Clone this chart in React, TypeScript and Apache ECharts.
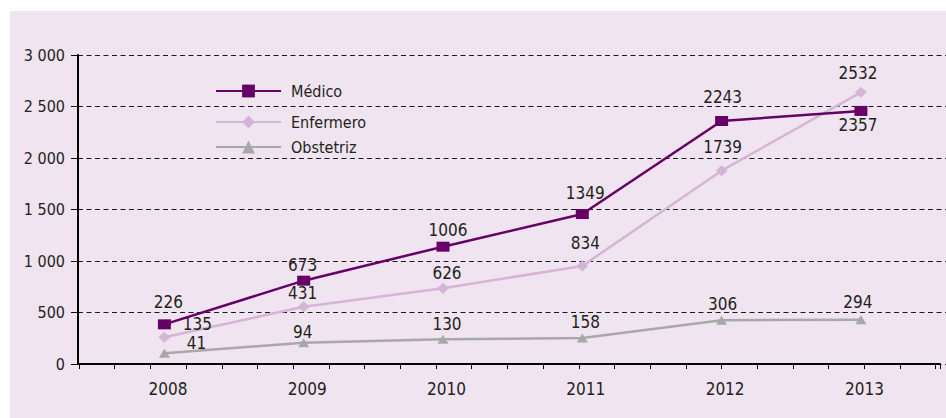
import React, { useEffect, useRef } from "react";
import * as echarts from "echarts";

const categories = ["2008", "2009", "2010", "2011", "2012", "2013"];

// values as plotted in the picture
const medicoValues = [385, 809, 1139, 1456, 2359, 2457];
const enfermeroValues = [259, 556, 735, 952, 1877, 2638];
const obstetrizValues = [105, 206, 241, 252, 425, 430];

// numbers written next to each point
const medicoLabels = [226, 673, 1006, 1349, 2243, 2357];
const enfermeroLabels = [135, 431, 626, 834, 1739, 2532];
const obstetrizLabels = [41, 94, 130, 158, 306, 294];

const yTicks = [0, 500, 1000, 1500, 2000, 2500, 3000];

const FONT = "'Liberation Sans Narrow', 'DejaVu Sans Condensed', 'Roboto Condensed', 'Liberation Sans', sans-serif";
const TEXT = "#231f20";
const BG = "#efe4ef";
const C_MED = "#660066";
const C_ENF = "#d5b5d5";
const C_OBS = "#a8a8a8";

// label placement (layout only)
const medOffsets = [[4, -22.6], [-1, -15.7], [5, -16.7], [3, -20.7], [1, -23.7], [-3, 14]];
const enfOffsets = [[33, -13.6], [-1, -13.4], [4, -15], [3, -22.7], [1, -23.4], [-3, -19]];
const obsOffsets = [[32, -10.4], [-1, -11], [4, -15], [3, -16], [1, -16.7], [-3, -18]];

const fmtThousands = (v: number) => {
  const s = String(v);
  if (s.length <= 3) return s;
  return s.slice(0, s.length - 3) + " " + s.slice(s.length - 3);
};

export default function App() {
  const ref = useRef<HTMLDivElement>(null);
  useEffect(() => {
    if (!ref.current) return;
    const chart = echarts.init(ref.current, null, { renderer: "svg" });
    const TOP = 55;
    const H = 309;

    const mkSeries = (
      name: string,
      values: number[],
      labels: number[],
      offsets: number[][],
      color: string,
      symbol: string,
      symbolSize: number | number[],
      z: number
    ) => ({
      name,
      type: "line",
      xAxisIndex: 2,
      yAxisIndex: 2,
      z,
      symbol,
      symbolSize,
      showSymbol: true,
      lineStyle: { color, width: 2.5 },
      itemStyle: { color },
      label: {
        show: true,
        position: "inside",
        fontFamily: FONT,
        fontSize: 17,
        lineHeight: 14,
        color: TEXT,
        formatter: (p: any) => String(labels[p.dataIndex]),
      },
      data: values.map((v, i) => ({ value: v, label: { offset: offsets[i] } })),
    });

    const legendBase = {
      left: 215,
      orient: "horizontal",
      padding: 0,
      itemWidth: 65,
      itemHeight: 16,
      textStyle: { fontFamily: FONT, fontSize: 16, color: TEXT, padding: [0, 0, 0, 5] },
    };

    chart.setOption({
      animation: false,
      backgroundColor: "#ffffff",
      graphic: [
        {
          type: "rect",
          shape: { x: 10, y: 11, width: 936, height: 407 },
          style: { fill: BG },
          z: -10,
          silent: true,
        },
      ],
      legend: [
        { ...legendBase, top: 83, data: ["Médico"] },
        { ...legendBase, top: 114, data: ["Enfermero"] },
        { ...legendBase, top: 139, data: ["Obstetriz"] },
      ],
      grid: [
        { left: 78, right: 0, top: TOP, height: H },
        { left: 79, width: 861, top: TOP, height: H },
        { left: 94.75, width: 835.8, top: TOP, height: H },
      ],
      xAxis: [
        { gridIndex: 0, type: "value", show: false, min: 0, max: 1 },
        {
          gridIndex: 1,
          type: "value",
          min: 0,
          max: 24.12,
          interval: 1,
          axisLine: { show: true, lineStyle: { color: "#000", width: 2 } },
          axisTick: { show: true, length: 5, lineStyle: { color: "#000", width: 1 } },
          axisLabel: { show: false },
          splitLine: { show: false },
        },
        {
          gridIndex: 2,
          type: "category",
          data: categories,
          boundaryGap: true,
          axisLine: { show: false },
          axisTick: { show: false },
          splitLine: { show: false },
          axisLabel: {
            fontFamily: FONT,
            fontSize: 17,
            color: TEXT,
            margin: 16,
            padding: [0, 0, 0, 7],
          },
        },
      ],
      yAxis: [
        {
          gridIndex: 0,
          type: "value",
          min: yTicks[0],
          max: yTicks[yTicks.length - 1],
          interval: 500,
          axisLine: { show: true, lineStyle: { color: "#000", width: 2 } },
          axisTick: { show: true, length: 7, lineStyle: { color: "#000", width: 1 } },
          axisLabel: {
            fontFamily: FONT,
            fontSize: 16,
            color: TEXT,
            margin: 13,
            formatter: (v: number) => fmtThousands(v),
          },
          splitLine: {
            show: true,
            lineStyle: { color: "#1a1a1a", width: 1, type: [5, 3.5] },
          },
        },
        { gridIndex: 1, type: "value", show: false, min: 0, max: 3000 },
        { gridIndex: 2, type: "value", show: false, min: 0, max: 3000 },
      ],
      series: [
        mkSeries("Obstetriz", obstetrizValues, obstetrizLabels, obsOffsets, C_OBS, "triangle", [11, 9], 2),
        mkSeries("Enfermero", enfermeroValues, enfermeroLabels, enfOffsets, C_ENF, "diamond", [12, 11], 3),
        mkSeries("Médico", medicoValues, medicoLabels, medOffsets, C_MED, "rect", [13, 10], 4),
      ],
    });
    return () => chart.dispose();
  }, []);
  return (
    <div
      ref={ref}
      style={{ position: "fixed", left: 0, top: 0, width: 946, height: 418 }}
    />
  );
}
